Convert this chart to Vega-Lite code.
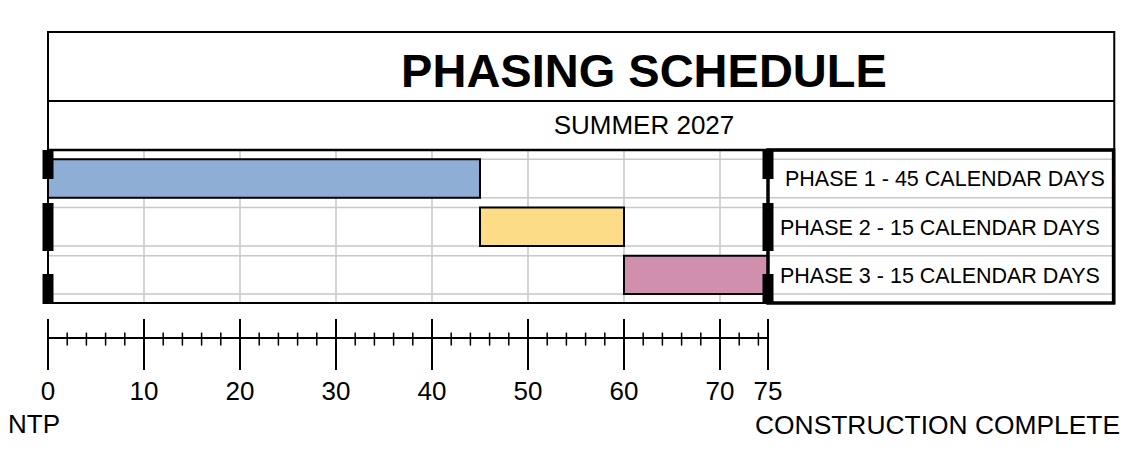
{
  "$schema": "https://vega.github.io/schema/vega-lite/v6.json",
  "width": 1129,
  "height": 461,
  "autosize": {"type": "none"},
  "padding": 0,
  "background": "white",
  "config": {"view": {"stroke": null}, "font": "Liberation Sans"},
  "datasets": {
    "phases": [
      {"phase": "Phase 1", "row": 1, "start": 0, "end": 45, "label": "PHASE 1 - 45 CALENDAR DAYS"},
      {"phase": "Phase 2", "row": 2, "start": 45, "end": 60, "label": "PHASE 2 - 15 CALENDAR DAYS"},
      {"phase": "Phase 3", "row": 3, "start": 60, "end": 75, "label": "PHASE 3 - 15 CALENDAR DAYS"}
    ],
    "grid": [{"day": 10}, {"day": 20}, {"day": 30}, {"day": 40}, {"day": 50}, {"day": 60}, {"day": 70}],
    "ends": [{"day": 0}, {"day": 75}],
    "major": [{"day": 0}, {"day": 10}, {"day": 20}, {"day": 30}, {"day": 40}, {"day": 50}, {"day": 60}, {"day": 70}, {"day": 75}],
    "minor": [{"day": 2}, {"day": 4}, {"day": 6}, {"day": 8}, {"day": 12}, {"day": 14}, {"day": 16}, {"day": 18}, {"day": 22}, {"day": 24}, {"day": 26}, {"day": 28}, {"day": 32}, {"day": 34}, {"day": 36}, {"day": 38}, {"day": 42}, {"day": 44}, {"day": 46}, {"day": 48}, {"day": 52}, {"day": 54}, {"day": 56}, {"day": 58}, {"day": 62}, {"day": 64}, {"day": 66}, {"day": 68}, {"day": 72}, {"day": 74}],
    "one": [{}]
  },
  "layer": [
    {
      "data": {"name": "phases"},
      "mark": {"type": "bar", "orient": "horizontal", "size": 38.4, "fillOpacity": 0, "stroke": "#c8c8c8", "strokeWidth": 1.5},
      "encoding": {
        "x": {"datum": 0, "type": "quantitative", "scale": {"domain": [-5, 112.6042], "nice": false, "zero": false, "padding": 0}, "axis": null},
        "x2": {"datum": 111.07},
        "y": {"field": "row", "type": "quantitative", "scale": {"domain": [-2.7033, 6.861], "nice": false, "zero": false, "reverse": true, "padding": 0}, "axis": null}
      }
    },
    {
      "data": {"name": "grid"},
      "mark": {"type": "rule", "color": "#c8c8c8", "strokeWidth": 1.5},
      "encoding": {
        "x": {"field": "day", "type": "quantitative", "axis": null},
        "y": {"datum": 0.4087, "type": "quantitative", "axis": null},
        "y2": {"datum": 3.583}
      }
    },
    {
      "data": {"name": "phases"},
      "mark": {"type": "bar", "orient": "horizontal", "size": 38.4, "stroke": "black", "strokeWidth": 2},
      "encoding": {
        "x": {"field": "start", "type": "quantitative", "axis": null},
        "x2": {"field": "end"},
        "y": {"field": "row", "type": "quantitative", "axis": null},
        "color": {"field": "phase", "type": "nominal", "scale": {"domain": ["Phase 1", "Phase 2", "Phase 3"], "range": ["#8FAED6", "#FDDC88", "#D18FAE"]}, "legend": null}
      }
    },
    {
      "data": {"name": "one"},
      "mark": {"type": "rect", "fillOpacity": 0, "stroke": "black", "strokeWidth": 2},
      "encoding": {
        "x": {"datum": 0, "type": "quantitative", "axis": null},
        "x2": {"datum": 111.07},
        "y": {"datum": -2.0394, "type": "quantitative", "axis": null},
        "y2": {"datum": 3.583}
      }
    },
    {
      "data": {"name": "one"},
      "mark": {"type": "rule", "color": "black", "strokeWidth": 2},
      "encoding": {
        "x": {"datum": 0, "type": "quantitative", "axis": null},
        "x2": {"datum": 111.07},
        "y": {"datum": -0.6079, "type": "quantitative", "axis": null}
      }
    },
    {
      "data": {"name": "one"},
      "mark": {"type": "rule", "color": "black", "strokeWidth": 2.5},
      "encoding": {
        "x": {"datum": 0, "type": "quantitative", "axis": null},
        "x2": {"datum": 111.07},
        "y": {"datum": 0.4087, "type": "quantitative", "axis": null}
      }
    },
    {
      "data": {"name": "one"},
      "mark": {"type": "rect", "fillOpacity": 0, "stroke": "black", "strokeWidth": 3.5},
      "encoding": {
        "x": {"datum": 75, "type": "quantitative", "axis": null},
        "x2": {"datum": 111.0},
        "y": {"datum": 0.4087, "type": "quantitative", "axis": null},
        "y2": {"datum": 3.583}
      }
    },
    {
      "data": {"name": "ends"},
      "mark": {"type": "rule", "color": "black", "strokeWidth": 11, "strokeCap": "butt"},
      "encoding": {
        "x": {"field": "day", "type": "quantitative", "axis": null},
        "y": {"datum": 0.4087, "type": "quantitative", "axis": null},
        "y2": {"datum": 1.0104}
      }
    },
    {
      "data": {"name": "ends"},
      "mark": {"type": "rule", "color": "black", "strokeWidth": 11, "strokeCap": "butt"},
      "encoding": {
        "x": {"field": "day", "type": "quantitative", "axis": null},
        "y": {"datum": 1.5083, "type": "quantitative", "axis": null},
        "y2": {"datum": 2.5041}
      }
    },
    {
      "data": {"name": "ends"},
      "mark": {"type": "rule", "color": "black", "strokeWidth": 11, "strokeCap": "butt"},
      "encoding": {
        "x": {"field": "day", "type": "quantitative", "axis": null},
        "y": {"datum": 2.9813, "type": "quantitative", "axis": null},
        "y2": {"datum": 3.6037}
      }
    },
    {
      "data": {"name": "phases"},
      "transform": [{"filter": "datum.row == 1"}],
      "mark": {"type": "text", "align": "left", "baseline": "alphabetic", "dy": 8, "fontSize": 21.5, "color": "black", "font": "Liberation Sans"},
      "encoding": {
        "x": {"datum": 76.77, "type": "quantitative", "axis": null},
        "y": {"field": "row", "type": "quantitative", "axis": null},
        "text": {"field": "label"}
      }
    },
    {
      "data": {"name": "phases"},
      "transform": [{"filter": "datum.row != 1"}],
      "mark": {"type": "text", "align": "left", "baseline": "alphabetic", "dy": 8, "fontSize": 21.5, "color": "black", "font": "Liberation Sans"},
      "encoding": {
        "x": {"datum": 76.25, "type": "quantitative", "axis": null},
        "y": {"field": "row", "type": "quantitative", "axis": null},
        "text": {"field": "label"}
      }
    },
    {
      "data": {"name": "one"},
      "mark": {"type": "text", "align": "center", "baseline": "alphabetic", "fontSize": 47, "fontWeight": "bold", "color": "black", "font": "Liberation Sans"},
      "encoding": {
        "x": {"datum": 62.08, "type": "quantitative", "axis": null},
        "y": {"datum": -0.9046, "type": "quantitative", "axis": null},
        "text": {"value": "PHASING SCHEDULE"}
      }
    },
    {
      "data": {"name": "one"},
      "mark": {"type": "text", "align": "center", "baseline": "alphabetic", "fontSize": 26, "color": "black", "font": "Liberation Sans"},
      "encoding": {
        "x": {"datum": 62.08, "type": "quantitative", "axis": null},
        "y": {"datum": 0.0768, "type": "quantitative", "axis": null},
        "text": {"value": "SUMMER 2027"}
      }
    },
    {
      "data": {"name": "one"},
      "mark": {"type": "text", "align": "left", "baseline": "alphabetic", "fontSize": 26, "color": "black", "font": "Liberation Sans"},
      "encoding": {
        "x": {"datum": -4.1667, "type": "quantitative", "axis": null},
        "y": {"datum": 6.274, "type": "quantitative", "axis": null},
        "text": {"value": "NTP"}
      }
    },
    {
      "data": {"name": "one"},
      "mark": {"type": "text", "align": "left", "baseline": "alphabetic", "fontSize": 26.4, "color": "black", "font": "Liberation Sans"},
      "encoding": {
        "x": {"datum": 73.646, "type": "quantitative", "axis": null},
        "y": {"datum": 6.3, "type": "quantitative", "axis": null},
        "text": {"value": "CONSTRUCTION COMPLETE"}
      }
    },
    {
      "data": {"name": "one"},
      "mark": {"type": "rule", "color": "black", "strokeWidth": 2},
      "encoding": {
        "x": {"datum": 0, "type": "quantitative", "axis": null},
        "x2": {"datum": 75},
        "y": {"datum": 4.3091, "type": "quantitative", "axis": null}
      }
    },
    {
      "data": {"name": "minor"},
      "mark": {"type": "rule", "color": "black", "strokeWidth": 1.5},
      "encoding": {
        "x": {"field": "day", "type": "quantitative", "axis": null},
        "y": {"datum": 4.1971, "type": "quantitative", "axis": null},
        "y2": {"datum": 4.4668}
      }
    },
    {
      "data": {"name": "major"},
      "mark": {"type": "rule", "color": "black", "strokeWidth": 2},
      "encoding": {
        "x": {"field": "day", "type": "quantitative", "axis": null},
        "y": {"datum": 3.9149, "type": "quantitative", "axis": null},
        "y2": {"datum": 4.973}
      }
    },
    {
      "data": {"name": "major"},
      "mark": {"type": "text", "align": "center", "baseline": "alphabetic", "fontSize": 26, "color": "black", "font": "Liberation Sans"},
      "encoding": {
        "x": {"field": "day", "type": "quantitative", "axis": null},
        "y": {"datum": 5.5954, "type": "quantitative", "axis": null},
        "text": {"field": "day", "type": "quantitative", "format": "d"}
      }
    }
  ]
}
